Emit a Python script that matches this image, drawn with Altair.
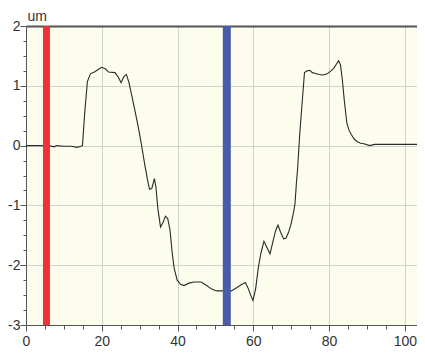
import altair as alt
import pandas as pd

# profile trace (x in scan units, y in um)
xs = [0, 2, 4, 6, 7.5, 8, 10, 12, 13.5, 14.5, 14.9, 15.5, 16.2, 17.0, 18.3, 19.2, 20.0, 21.0, 21.8,
      23.5, 24.3, 25.1, 25.8, 26.5, 27.2, 27.8, 28.7, 29.6, 30.3, 31.3, 32.1, 32.6, 33.2, 33.9, 34.3,
      34.8, 35.5, 36.2, 36.8, 37.4, 38.0, 38.6, 39.1, 39.9, 40.8, 41.7, 43.0, 44.3, 46.2, 47.5, 49.0,
      50.3, 52.0, 54.2, 55.5, 57.0, 57.9, 58.6, 59.3, 59.9, 60.6, 61.3, 62.0, 62.8, 63.4, 64.4, 65.0,
      65.8, 66.5, 67.2, 68.0, 68.6, 69.3, 70.0, 70.6, 71.0, 71.4, 71.7, 72.2, 72.8, 73.5, 74.2, 74.9,
      75.6, 76.2, 77.3, 78.4, 79.5, 80.5, 81.3, 81.9, 82.5, 83.0, 83.5, 84.0, 84.7, 85.3, 85.9, 86.6,
      87.4, 88.3, 89.2, 90.7, 92, 95, 100, 103.2]
ys = [0, 0, 0, 0, -0.02, 0, -0.01, -0.01, -0.03, -0.01, 0.0, 0.55, 1.07, 1.2, 1.24, 1.28, 1.31, 1.28, 1.23,
      1.22, 1.15, 1.05, 1.15, 1.19, 1.05, 0.87, 0.6, 0.32, 0.08, -0.30, -0.58, -0.73, -0.72, -0.55, -0.7,
      -1.05, -1.36, -1.28, -1.18, -1.22, -1.41, -1.8, -2.05, -2.25, -2.32, -2.34, -2.3, -2.28, -2.28, -2.33, -2.4,
      -2.43, -2.43, -2.43, -2.38, -2.32, -2.29, -2.38, -2.5, -2.59, -2.4, -2.05, -1.8, -1.6, -1.68, -1.81, -1.65,
      -1.44, -1.33, -1.45, -1.56, -1.55, -1.45, -1.30, -1.12, -0.97, -0.6, -0.38, 0.15, 0.65, 1.22, 1.25, 1.26,
      1.22, 1.21, 1.19, 1.18, 1.2, 1.25, 1.3, 1.36, 1.42, 1.35, 1.1, 0.76, 0.37, 0.25, 0.18, 0.11,
      0.07, 0.04, 0.03, 0.0, 0.02, 0.02, 0.02, 0.02]

cursor_red = [5.4]
cursor_blue = [53.0]

x_ticks = [i * 5 for i in range(21)]
y_ticks = [-3 + i * 0.25 for i in range(21)]

X_DOMAIN = [0, 103.2]
Y_DOMAIN = [-3, 2]

df = pd.DataFrame({"x": xs, "y": ys})
df_red = pd.DataFrame({"x": cursor_red})
df_blue = pd.DataFrame({"x": cursor_blue})

FONT = "Liberation Sans"
TXT = "#333333"

x_axis = alt.Axis(
    values=x_ticks,
    labelExpr="datum.value % 20 === 0 ? '' + datum.value : ''",
    tickSize={"condition": {"test": "datum.value % 20 === 0", "value": 6}, "value": 4},
    gridOpacity={"condition": {"test": "datum.value % 20 === 0", "value": 1}, "value": 0},
    gridColor="#D2D2CC",
    domainColor="#555555",
    tickColor="#555555",
    labelFont=FONT,
    labelFontSize=14,
    labelColor=TXT,
    labelPadding=3,
    labelFlush=False,
    labelOverlap=False,
    title=None,
)

y_axis = alt.Axis(
    values=y_ticks,
    labelExpr="datum.value % 1 === 0 ? '' + datum.value : ''",
    tickSize={"condition": {"test": "datum.value % 1 === 0", "value": 6}, "value": 3},
    gridOpacity={"condition": {"test": "datum.value % 1 === 0", "value": 1}, "value": 0},
    gridColor="#D2D2CC",
    domainColor="#555555",
    tickColor="#555555",
    labelFont=FONT,
    labelFontSize=14,
    labelColor=TXT,
    labelPadding=0,
    labelFlush=False,
    labelOverlap=False,
    title="um",
    titleAngle=0,
    titleAlign="left",
    titleBaseline="bottom",
    titleX=1,
    titleY=-3,
    titleFont=FONT,
    titleFontSize=14,
    titleFontWeight="normal",
    titleColor=TXT,
)

xs_scale = alt.Scale(domain=X_DOMAIN, nice=False, zero=False)
ys_scale = alt.Scale(domain=Y_DOMAIN, nice=False, zero=False)

line = alt.Chart(df).mark_line(color="#2a2a2a", strokeWidth=1.1).encode(
    x=alt.X("x:Q", scale=xs_scale, axis=x_axis),
    y=alt.Y("y:Q", scale=ys_scale, axis=y_axis),
)

red = alt.Chart(df_red).mark_rule(color="#EE3338", strokeWidth=7).encode(
    x=alt.X("x:Q", scale=xs_scale, axis=alt.Axis(orient="top", labels=False, ticks=False, grid=False,
                                                  domainColor="#555555", domainWidth=2, title=None)),
)

blue = alt.Chart(df_blue).mark_rule(color="#4A5BAB", strokeWidth=8).encode(
    x=alt.X("x:Q", scale=xs_scale, axis=None),
)

chart = alt.layer(line, red, blue).resolve_axis(x="independent").properties(
    width=391,
    height=299,
    autosize=alt.AutoSizeParams(type="none"),
    padding={"left": 18, "top": 18, "right": 0, "bottom": 22},
    background="white",
).configure_view(fill="#FDFDEE", stroke="transparent")

chart.save("out.html", embed_options={"renderer": "svg", "actions": False})
